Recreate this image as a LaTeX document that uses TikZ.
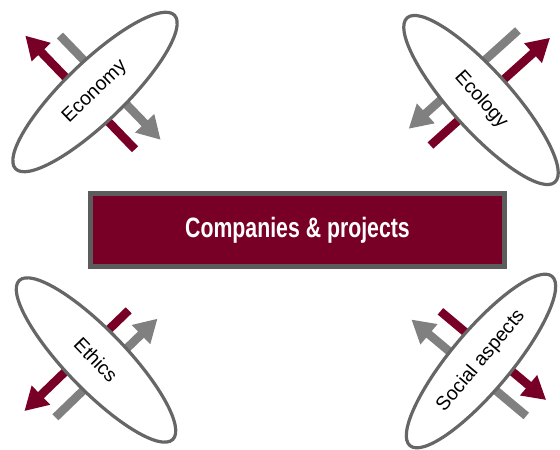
\documentclass[tikz,border=0pt]{standalone}
\usepackage{fontspec}
\setmainfont{Liberation Sans}
\newfontfamily\narrowfont[FakeStretch=0.76]{Liberation Sans}
\usetikzlibrary{shapes.geometric,arrows.meta}

\definecolor{wine}{HTML}{780026}
\definecolor{rimgray}{HTML}{5C5C5C}
\definecolor{ovalgray}{HTML}{666666}
\definecolor{arrowgray}{HTML}{808080}

\begin{document}
\begin{tikzpicture}[x=1pt,y=1pt,
    oval/.style={ellipse, draw=ovalgray, line width=3.2pt, fill=white,
      minimum width=221pt, minimum height=60pt, inner sep=0pt,
      font=\fontsize{19.5}{21}\selectfont},
    fatarrow/.style={line width=8.5pt, -{Triangle[width=25pt,length=23pt]}},
    redarrow/.style={fatarrow, wine},
    greyarrow/.style={fatarrow, arrowgray},
    mainbox/.style={draw=rimgray, line width=5pt, fill=wine,
      minimum width=414pt, minimum height=73pt, text=white,
      font=\narrowfont\bfseries\fontsize{28}{30}\selectfont}]
  \useasboundingbox (0,0) rectangle (560,450);

  % centres of the four ovals
  \coordinate (ecoC) at (95,358);
  \coordinate (ecolC) at (481,350);
  \coordinate (ethC) at (96,90);
  \coordinate (socC) at (481,89);

  % arrows first, the ovals cover their middles
  \begin{scope}[shift={(ecoC)}, rotate=44]
    \draw [redarrow] (-11,-69) -- (-11,89);
    \draw [greyarrow] (14,65) -- (14,-80);
  \end{scope}
  \begin{scope}[shift={(ecolC)}, rotate=-48]
    \draw [greyarrow] (-27,74) -- (-27,-73);
    \draw [redarrow] (0,-68) -- (0,93);
  \end{scope}
  \begin{scope}[shift={(ethC)}, rotate=-46]
    \draw [redarrow] (-13,58) -- (-13,-87);
    \draw [greyarrow] (13,-69) -- (13,73);
  \end{scope}
  \begin{scope}[shift={(socC)}, rotate=50]
    \draw [greyarrow] (-13,-70) -- (-13,80);
    \draw [redarrow] (12,63) -- (12,-75);
  \end{scope}

  \node [oval, rotate=44] (eco) at (ecoC) {Economy};
  \node [oval, rotate=-48] (ecol) at (ecolC) {Ecology};
  \node [oval, rotate=-46] (eth) at (ethC) {Ethics};
  \node [oval, rotate=50] (soc) at (socC) {Social aspects};

  \node [mainbox] (proj) at (297.5,220) {Companies \& projects};
\end{tikzpicture}
\end{document}
